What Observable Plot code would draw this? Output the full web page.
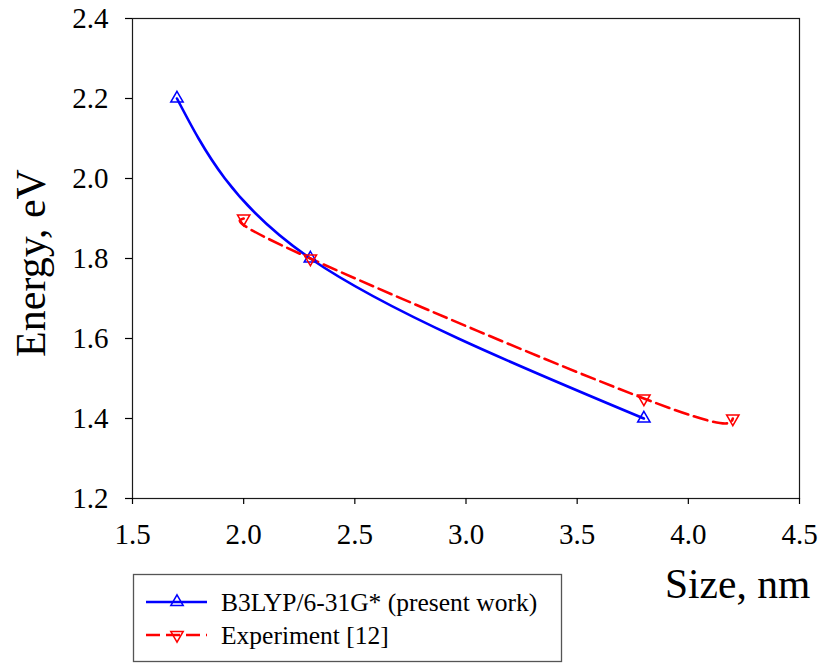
<!DOCTYPE html>
<html>
<head>
<meta charset="utf-8">
<script src="https://cdn.jsdelivr.net/npm/d3@7"></script>
<script src="https://cdn.jsdelivr.net/npm/@observablehq/plot@0.6"></script>
<style>
  html, body { margin: 0; padding: 0; background: #fff; }
  #chart { width: 825px; height: 664px; }
</style>
</head>
<body>
<div id="chart"></div>
<script>
// Data
const b3lypSize = [1.7, 2.3, 3.8];
const b3lypEnergy = [2.2, 1.8, 1.4];
const expSize = [2.0, 2.3, 3.8, 4.2];
const expEnergy = [1.9, 1.8, 1.45, 1.4];
const xTicks = [1.5, 2.0, 2.5, 3.0, 3.5, 4.0, 4.5];
const yTicks = [1.2, 1.4, 1.6, 1.8, 2.0, 2.2, 2.4];
const seriesNames = ["B3LYP/6-31G* (present work)", "Experiment [12]"];
const xLabel = "Size, nm";
const yLabel = "Energy, eV";

const b3lyp = b3lypSize.map((s, i) => ({size: s, energy: b3lypEnergy[i]}));
const exp = expSize.map((s, i) => ({size: s, energy: expEnergy[i]}));

const BLUE = "#0000ff";
const RED = "#ff0000";
const FONT = "'Liberation Serif', 'Times New Roman', serif";

const chart = Plot.plot({
  width: 825,
  height: 664,
  marginLeft: 132,
  marginRight: 26,
  marginTop: 18,
  marginBottom: 166,
  style: {fontFamily: FONT, background: "#fff", color: "#000", overflow: "visible"},
  x: {domain: [1.5, 4.5]},
  y: {domain: [1.2, 2.4]},
  marks: [
    Plot.frame({stroke: "#1a1a1a", strokeWidth: 1.2}),
    Plot.axisX({ticks: xTicks, tickFormat: d3.format(".1f"), tickSize: 6, tickPadding: 19, fontSize: 29, fontFamily: FONT, label: null, strokeWidth: 1.2}),
    Plot.axisY({ticks: yTicks, tickFormat: d3.format(".1f"), tickSize: 7, tickPadding: 17, fontSize: 29, fontFamily: FONT, label: null, strokeWidth: 1.2}),
    Plot.line(b3lyp, {x: "size", y: "energy", curve: "natural", stroke: BLUE, strokeWidth: 2.6}),
    Plot.line(exp, {x: "size", y: "energy", curve: "natural", stroke: RED, strokeWidth: 2.6, strokeDasharray: "14,6"}),
    Plot.dot(b3lyp, {x: "size", y: "energy", symbol: "triangle", r: 4.6, stroke: BLUE, fill: "none", strokeWidth: 1.5}),
    Plot.dot(exp, {x: "size", y: "energy", symbol: "triangle", rotate: 180, r: 4.6, stroke: RED, fill: "none", strokeWidth: 1.5})
  ]
});

document.getElementById("chart").appendChild(chart);

// Axis titles and legend
const svg = d3.select(chart);
svg.append("text")
  .attr("transform", "translate(45,263) rotate(-90)")
  .attr("text-anchor", "middle")
  .attr("font-family", FONT)
  .attr("font-size", 42)
  .attr("fill", "#000")
  .text(yLabel);

svg.append("text")
  .attr("x", 665).attr("y", 598)
  .attr("text-anchor", "start")
  .attr("font-family", FONT)
  .attr("font-size", 41.5)
  .attr("fill", "#000")
  .text(xLabel);

const lg = svg.append("g");
lg.append("rect")
  .attr("x", 133.5).attr("y", 574.5).attr("width", 428).attr("height", 87)
  .attr("fill", "none").attr("stroke", "#555").attr("stroke-width", 1.3);

const legendItems = [
  {name: seriesNames[0], color: BLUE, dash: null, rotate: 0, y: 602},
  {name: seriesNames[1], color: RED, dash: "14,6", rotate: 180, y: 635}
];
const tri = d3.symbol(d3.symbolTriangle, Math.PI * 4.6 * 4.6)();
legendItems.forEach(it => {
  lg.append("line")
    .attr("x1", 146).attr("x2", 207).attr("y1", it.y).attr("y2", it.y)
    .attr("stroke", it.color).attr("stroke-width", 2.6)
    .attr("stroke-dasharray", it.dash);
  lg.append("path")
    .attr("d", tri)
    .attr("transform", `translate(177,${it.y}) rotate(${it.rotate})`)
    .attr("fill", "none").attr("stroke", it.color).attr("stroke-width", 1.5);
  lg.append("text")
    .attr("x", 221).attr("y", it.y + 8.5)
    .attr("text-anchor", "start")
    .attr("font-family", FONT)
    .attr("font-size", 25.5)
    .attr("fill", "#000")
    .text(it.name);
});
</script>
</body>
</html>
